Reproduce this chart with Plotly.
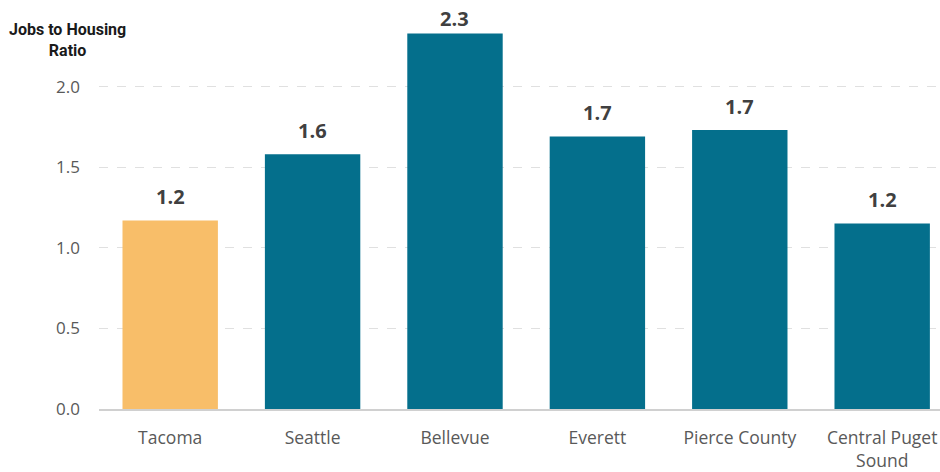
import plotly.graph_objects as go

categories = ["Tacoma", "Seattle", "Bellevue", "Everett", "Pierce County", "Central Puget<br>Sound"]
values = [1.17, 1.58, 2.33, 1.69, 1.73, 1.15]
labels = ["1.2", "1.6", "2.3", "1.7", "1.7", "1.2"]
bar_colors = ["#F8BE69", "#046F8C", "#046F8C", "#046F8C", "#046F8C", "#046F8C"]
y_ticks = [0, 0.5, 1.0, 1.5, 2.0]
y_ticktext = ["0.0", "0.5", "1.0", "1.5", "2.0"]

Y_MAX = 2.5
LABEL_OFFSET = 0.149   # data units above bar top (~24 px)
LABEL_CEIL = 2.425     # keep labels inside the figure

fig = go.Figure()
fig.add_trace(go.Bar(x=categories, y=values, marker=dict(color=bar_colors, line=dict(width=0)),
                     hoverinfo="skip"))

for c, v, t in zip(categories, values, labels):
    fig.add_annotation(x=c, y=min(v + LABEL_OFFSET, LABEL_CEIL), text=f"<b>{t}</b>",
                       showarrow=False, yanchor="middle",
                       font=dict(family="Open Sans", size=20, color="#404040"))

fig.add_annotation(xref="paper", yref="paper", x=-0.037, y=0.916, xanchor="center", yanchor="middle",
                   text="<b>Jobs to Housing<br>Ratio</b>", showarrow=False, align="center",
                   font=dict(family="Roboto", size=16, color="#1a1a1a"))

fig.update_layout(
    width=940, height=472,
    margin=dict(l=99, r=0, t=6, b=63),
    plot_bgcolor="white", paper_bgcolor="white",
    bargap=0.33, showlegend=False,
    font=dict(family="Open Sans", size=16, color="#595959"),
)
fig.update_xaxes(range=[-0.5, 5.406], showgrid=False, showline=True, linecolor="#d0d0d0",
                 linewidth=1.5, ticks="", ticklabelstandoff=12, tickfont=dict(size=17.5, color="#595959"))
fig.update_yaxes(range=[0, Y_MAX], tickvals=y_ticks, ticktext=y_ticktext, showgrid=True,
                 gridcolor="#e0e0e0", griddash="dash", gridwidth=1, zeroline=False,
                 showline=False, ticks="", ticklabelstandoff=18,
                 tickfont=dict(size=17, color="#595959"))

fig.write_html("out.html")
